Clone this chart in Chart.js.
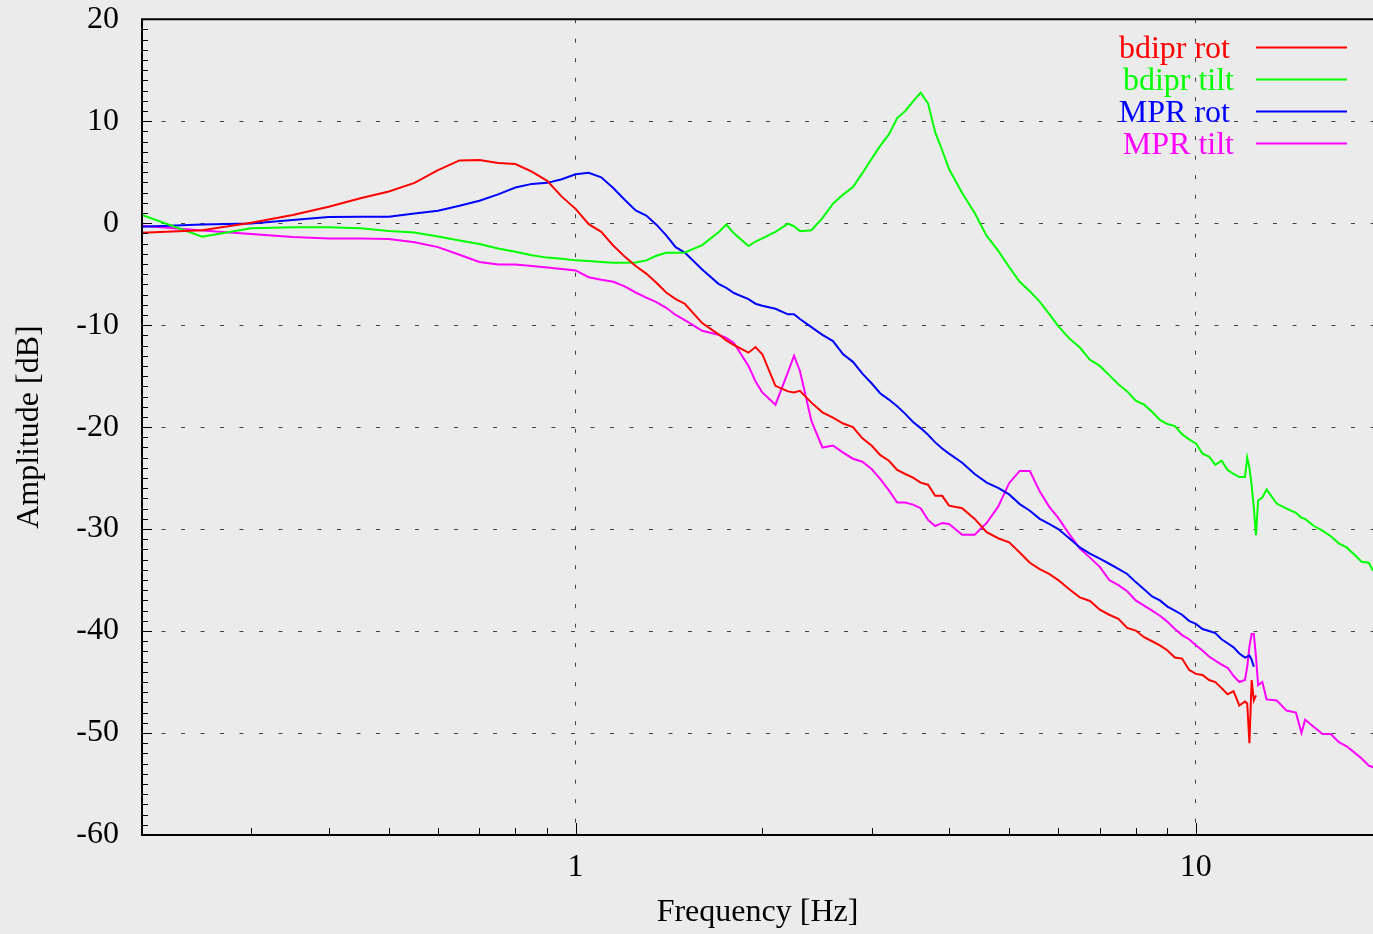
<!DOCTYPE html>
<html lang="en">
<head>
<meta charset="UTF-8">
<title>Amplitude [dB] vs Frequency [Hz]</title>
<script src="https://cdn.jsdelivr.net/npm/chart.js"></script>
<style>
    html, body { margin: 0; padding: 0; background: #ebebeb; }
    canvas { display: block; }
</style>
</head>
<body>
<canvas id="bode" width="1373" height="934"></canvas>
<script>
// frequency grid [Hz], shared by all four traces
const freq = [
    0.2, 0.25, 0.3, 0.35, 0.4, 0.45, 0.5, 0.55, 0.6, 0.65, 0.7, 0.75, 0.8, 0.85, 0.9, 0.95, 1.0,
    1.05, 1.1, 1.15, 1.2, 1.25, 1.3, 1.35, 1.4, 1.45, 1.5,
    1.6, 1.7, 1.75, 1.8, 1.9, 1.95, 2.0,
    2.1, 2.2, 2.25, 2.3, 2.4, 2.5, 2.6, 2.7, 2.8, 2.9, 3.0,
    3.1, 3.2, 3.3, 3.4, 3.5, 3.6, 3.7, 3.8, 3.9, 4.0,
    4.2, 4.4, 4.6, 4.8, 5.0,
    5.2, 5.4, 5.6, 5.8, 6.0,
    6.25, 6.5, 6.75, 7.0,
    7.25, 7.5, 7.75, 8.0, 8.25, 8.5, 8.75, 9.0, 9.25, 9.5, 9.75, 10,
    10.25, 10.5, 10.75, 11, 11.25, 11.5, 11.75, 12,
    12.1, 12.2, 12.3, 12.4, 12.5, 12.6, 12.8, 13,
    13.5, 14, 14.5, 14.8, 15, 15.5, 16, 16.5, 17, 17.5, 18, 18.5, 19, 19.3
];

// amplitude [dB] per trace, index-aligned with freq
const bdiprRot = [
    -0.95, -0.7, 0.05, 0.8, 1.6, 2.45, 3.1, 3.95, 5.2, 6.15, 6.2, 5.9, 5.8, 5.05, 4.15, 2.6, 1.4,
    -0.1, -0.85, -2.2, -3.28, -4.2, -4.95, -5.85, -6.8, -7.45, -7.9,
    -9.8, -10.9, -11.5, -11.95, -12.7, -12.15, -12.85,
    -15.95, -16.5, -16.6, -16.45, -17.6, -18.55, -19.07, -19.65, -20.0, -21.1, -21.8,
    -22.75, -23.3, -24.2, -24.6, -24.95, -25.45, -25.65, -26.74, -26.74, -27.7,
    -27.95, -29.0, -30.3, -30.9, -31.3,
    -32.3, -33.3, -33.93, -34.4, -35.0,
    -35.9, -36.7, -37.05, -37.9,
    -38.4, -38.8, -39.7, -39.95, -40.6, -41.0, -41.4, -41.9, -42.6, -42.7, -43.8, -44.2,
    -44.3, -44.8, -45.0, -45.6, -46.2, -45.9, -47.3, -46.9,
    -47.1, -51.0, -44.8, -46.8, -46.3
];

const bdiprTilt = [
    0.8, -1.34, -0.5, -0.39, -0.39, -0.5, -0.78, -0.92, -1.3, -1.7, -2.05, -2.48, -2.8, -3.15, -3.38, -3.5, -3.65,
    -3.7, -3.8, -3.88, -3.88, -3.85, -3.65, -3.2, -2.9, -2.9, -2.88,
    -2.15, -0.9, -0.13, -1.0, -2.25, -1.8, -1.5,
    -0.85, -0.05, -0.3, -0.8, -0.7, 0.5, 1.9, 2.8, 3.55, 4.9, 6.3,
    7.6, 8.7, 10.3, 11.0, 11.95, 12.8, 11.75, 8.9, 7.15, 5.3,
    2.95, 1.0, -1.25, -2.7, -4.3,
    -5.75, -6.67, -7.7, -8.9, -10.1,
    -11.3, -12.2, -13.4, -14.0,
    -14.9, -15.8, -16.5, -17.4, -17.8, -18.5, -19.3, -19.7, -19.9, -20.7, -21.2, -21.6,
    -22.6, -22.9, -23.7, -23.3, -24.2, -24.6, -24.9, -24.9,
    -23.0, -24.0, -25.7, -27.9, -30.6, -27.2, -26.9, -26.1,
    -27.5, -28.0, -28.4, -28.9, -29.0, -29.7, -30.15, -30.7, -31.4, -31.8, -32.5, -33.2, -33.3, -34.1
];

const mprRot = [
    -0.36, -0.13, -0.03, 0.3, 0.6, 0.62, 0.63, 0.95, 1.22, 1.7, 2.2, 2.82, 3.5, 3.85, 3.95, 4.3, 4.8,
    4.93, 4.5, 3.45, 2.3, 1.25, 0.75, -0.15, -1.2, -2.35, -2.88,
    -4.55, -5.95, -6.34, -6.85, -7.45, -7.9, -8.1,
    -8.4, -8.94, -8.94, -9.4, -10.2, -10.95, -11.56, -12.86, -13.6, -14.75, -15.7,
    -16.7, -17.3, -17.95, -18.7, -19.5, -20.1, -20.75, -21.5, -22.1, -22.6,
    -23.5, -24.6, -25.45, -25.95, -26.6,
    -27.55, -28.2, -29.0, -29.5, -30.0,
    -30.9, -31.8, -32.4, -32.9,
    -33.4, -33.9, -34.4, -35.2, -35.9, -36.6, -37.0, -37.6, -38.0, -38.4, -39.0, -39.3,
    -39.8, -40.0, -40.2, -40.8, -41.2, -41.6, -42.2, -42.6,
    -42.5, -42.4, -42.8, -43.5
];

const mprTilt = [
    -0.25, -0.73, -1.06, -1.36, -1.5, -1.5, -1.55, -1.87, -2.35, -3.1, -3.8, -4.05, -4.05, -4.2, -4.35, -4.5, -4.64,
    -5.3, -5.55, -5.75, -6.2, -6.8, -7.3, -7.75, -8.3, -9.0, -9.5,
    -10.55, -10.95, -11.25, -11.75, -14.0, -15.5, -16.6,
    -17.8, -14.6, -13.0, -14.5, -19.4, -22.0, -21.8, -22.5, -23.1, -23.4, -24.1,
    -25.1, -26.2, -27.39, -27.39, -27.6, -27.95, -29.1, -29.7, -29.4, -29.5,
    -30.55, -30.55, -29.4, -27.8, -25.5,
    -24.3, -24.3, -26.3, -27.8, -28.9,
    -30.5, -31.9, -32.8, -33.7,
    -35.0, -35.5, -36.1, -37.0, -37.5, -38.0, -38.5, -39.1, -39.8, -40.4, -40.8, -41.4,
    -41.9, -42.5, -42.9, -43.3, -43.6, -44.4, -45.0, -44.8,
    -43.5, -41.5, -40.3, -40.3, -42.5, -45.3, -45.0, -46.7,
    -46.8, -47.8, -48.0, -50.0, -48.7, -49.4, -50.1, -50.1, -50.9, -51.3, -51.9, -52.5, -53.2, -53.35
];

const xTickLabels = [1, 10];
const xMinorTicks = [0.3, 0.4, 0.5, 0.6, 0.7, 0.8, 0.9, 2, 3, 4, 5, 6, 7, 8, 9];
const yMin = -60, yMax = 20, yStep = 10;

const series = [
    { label: 'bdipr rot', color: '#ff0000', values: bdiprRot },
    { label: 'bdipr tilt', color: '#00ff00', values: bdiprTilt },
    { label: 'MPR rot', color: '#0000ff', values: mprRot },
    { label: 'MPR tilt', color: '#ff00ff', values: mprTilt },
];

const serif = "'Liberation Serif', 'Times New Roman', serif";
const fontSize = 32;

// key text right edges, as gnuplot placed them
const keyRight = [1230, 1234, 1230, 1234];

// gnuplot look: inward tick marks, black frame, key with the sample line right of the text
const gnuplotFrame = {
    id: 'gnuplotFrame',
    afterDraw(chart) {
        const { ctx, chartArea: a, scales: { x, y } } = chart;
        ctx.save();
        ctx.strokeStyle = '#000';
        ctx.lineWidth = 1;

        for (let v = yMin; v <= yMax; v++) {
            const py = Math.round(y.getPixelForValue(v)) + 0.5;
            const len = v % yStep === 0 ? 10 : 6;
            ctx.beginPath();
            ctx.moveTo(a.left, py);
            ctx.lineTo(a.left + len, py);
            ctx.stroke();
        }
        xMinorTicks.concat(xTickLabels).forEach(v => {
            const px = Math.round(x.getPixelForValue(v)) + 0.5;
            const len = xTickLabels.includes(v) ? 12 : 7;
            ctx.beginPath();
            ctx.moveTo(px, a.bottom);
            ctx.lineTo(px, a.bottom - len);
            ctx.stroke();
        });

        ctx.lineWidth = 2;
        ctx.beginPath();
        ctx.moveTo(a.right, a.top);
        ctx.lineTo(a.left, a.top);
        ctx.lineTo(a.left, a.bottom);
        ctx.lineTo(a.right, a.bottom);
        ctx.stroke();

        // key
        ctx.font = fontSize + 'px ' + serif;
        ctx.textAlign = 'right';
        ctx.textBaseline = 'alphabetic';
        chart.data.datasets.forEach((ds, i) => {
            const ky = 47.5 + i * 32;
            ctx.fillStyle = ds.borderColor;
            ctx.fillText(ds.label, keyRight[i], ky + 10);
            ctx.strokeStyle = ds.borderColor;
            ctx.lineWidth = 2;
            ctx.beginPath();
            ctx.moveTo(1256, ky);
            ctx.lineTo(1347, ky);
            ctx.stroke();
        });
        ctx.restore();
    }
};

Chart.defaults.font.family = serif;
Chart.defaults.font.size = fontSize;
Chart.defaults.color = '#000';

const hiddenTick = 'rgba(0,0,0,0)';

new Chart(document.getElementById('bode'), {
    type: 'line',
    data: {
        datasets: series.map(s => ({
            label: s.label,
            data: s.values.map((v, i) => ({ x: freq[i], y: v })),
            borderColor: s.color,
            backgroundColor: s.color,
            borderWidth: 2,
            pointRadius: 0,
            tension: 0,
            fill: false,
        }))
    },
    options: {
        responsive: false,
        animation: false,
        devicePixelRatio: 1,
        layout: { padding: { top: 18, right: 0, bottom: 0, left: 0 } },
        plugins: {
            legend: { display: false },
            tooltip: { enabled: false },
        },
        scales: {
            x: {
                type: 'logarithmic',
                min: 0.2,
                max: 19.3,
                afterBuildTicks: scale => { scale.ticks = xTickLabels.map(v => ({ value: v })); },
                afterFit: scale => { scale.height = 99; },
                ticks: {
                    callback: v => String(v),
                    padding: 0,
                    maxRotation: 0,
                    font: { size: fontSize, lineHeight: 1.2 },
                },
                grid: { color: '#444', lineWidth: 1, drawTicks: true, tickLength: 13.5, tickColor: hiddenTick },
                border: { display: false, dash: [4, 15.5] },
                title: {
                    display: true,
                    text: 'Frequency [Hz]',
                    font: { size: fontSize, lineHeight: 1.2 },
                    padding: { top: 0, bottom: 2 },
                },
            },
            y: {
                min: yMin,
                max: yMax,
                afterFit: scale => { scale.width = 142; },
                ticks: {
                    stepSize: yStep,
                    padding: 0,
                    font: { size: fontSize, lineHeight: 1.2 },
                },
                grid: { color: '#444', lineWidth: 1, drawTicks: true, tickLength: 23, tickColor: hiddenTick },
                border: { display: false, dash: [4, 15.5] },
                title: {
                    display: true,
                    text: 'Amplitude [dB]',
                    font: { size: fontSize, lineHeight: 1.2 },
                    padding: { top: 10, bottom: 0 },
                },
            },
        },
    },
    plugins: [gnuplotFrame],
});
</script>
</body>
</html>
